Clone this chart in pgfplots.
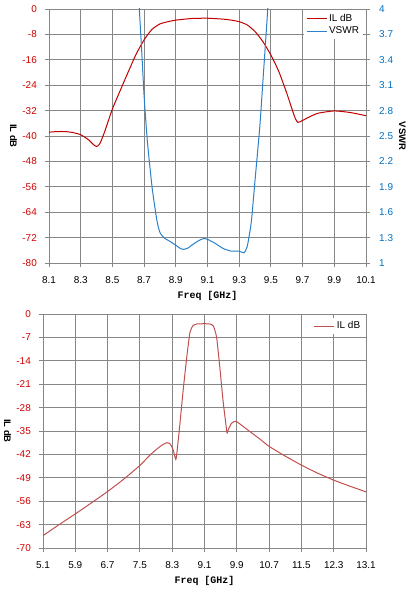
\documentclass[border=0pt]{standalone}
\usepackage{pgfplots}
\pgfplotsset{compat=1.18}
\usepackage{fontspec}
\setmainfont{Liberation Sans}
\newfontfamily\monofont{Liberation Mono}
\definecolor{ilred}{HTML}{C00000}
\definecolor{ilred2}{HTML}{C0504D}
\definecolor{vswrblue}{HTML}{2A80CA}
\definecolor{ticklred}{HTML}{D00000}
\definecolor{tickblue}{HTML}{0070C0}
\definecolor{gridgray}{HTML}{868686}

\pgfplotsset{
  base/.style={
    scale only axis,
    /pgf/number format/assume math mode=true,
    axis line style={draw=gridgray, line width=0.9bp},
    grid style={draw=gridgray, line width=0.9bp},
    tick style={draw=gridgray, line width=0.9bp},
    major tick length=4bp,
    tick align=outside,
    ticklabel style={font=\fontsize{10}{12}\selectfont},
    xticklabel style={anchor=north, inner sep=0pt, yshift=-9bp, text=black,
      /pgf/number format/fixed, /pgf/number format/precision=1},
    yticklabel style={inner sep=0pt},
    label style={font=\fontsize{9.5}{11}\selectfont\bfseries},
    xlabel style={font=\fontsize{10}{12}\selectfont\monofont\bfseries},
    legend style={draw=none, fill=white, inner sep=2bp,
      font=\fontsize{10}{12}\selectfont, row sep=0bp},
    legend cell align=left,
    legend image code/.code={\draw[#1] (0bp,0bp) -- (20bp,0bp);},
  }
}

\begin{document}
\begin{tikzpicture}
\useasboundingbox (0,0) rectangle (413bp,596bp);

% ---------- top chart, left axis (IL dB)
\begin{axis}[base,
  at={(49bp,333bp)}, anchor=south west,
  width=317bp, height=254bp,
  xmin=8.1, xmax=10.1, ymin=-80, ymax=0,
  xtick={8.1,8.3,8.5,8.7,8.9,9.1,9.3,9.5,9.7,9.9,10.1},
  ytick={-80,-72,-64,-56,-48,-40,-32,-24,-16,-8,0},
  xtick pos=bottom, ytick pos=left,
  xmajorgrids, ymajorgrids,
  yticklabel style={text=ticklred, anchor=east, xshift=-8bp},
  xlabel={Freq [GHz]},
  xlabel style={at={(rel axis cs:0.5,0)}, anchor=center, yshift=-33bp},
  ylabel={IL dB},
  ylabel style={at={(rel axis cs:-0.112,0.5)}, anchor=center, rotate=180},
]
\addplot[ilred, line width=1bp, smooth, tension=0.35] coordinates {
(8.10,-38.8) (8.15,-38.6) (8.20,-38.6) (8.25,-38.9) (8.30,-39.6)
(8.35,-41.2) (8.38,-42.7) (8.40,-43.3) (8.42,-42.5) (8.45,-38.8)
(8.50,-31.5) (8.55,-25.6) (8.60,-19.8) (8.65,-14.2) (8.70,-9.7)
(8.75,-6.4) (8.80,-4.7) (8.85,-4.0) (8.90,-3.5) (9.00,-3.0)
(9.10,-2.9) (9.20,-3.2) (9.25,-3.5) (9.30,-4.0) (9.35,-5.0)
(9.40,-7.1) (9.45,-10.3) (9.50,-14.5) (9.55,-19.7) (9.60,-26.5)
(9.65,-34.0) (9.67,-35.7) (9.70,-35.1) (9.75,-33.8) (9.80,-32.8)
(9.90,-32.1) (10.00,-32.6) (10.10,-33.6)
};
\end{axis}

% ---------- top chart, right axis (VSWR)
\begin{axis}[base,
  at={(49bp,333bp)}, anchor=south west,
  width=317bp, height=254bp,
  xmin=8.1, xmax=10.1, ymin=1, ymax=4,
  axis x line=none, axis y line*=right,
  ytick={1,1.3,1.6,1.9,2.2,2.5,2.8,3.1,3.4,3.7,4},
  yticklabel style={text=tickblue, anchor=west, xshift=9bp},
  ylabel={VSWR},
  ylabel style={at={(rel axis cs:1.115,0.5)}, anchor=center, rotate=180},
  legend style={at={(rel axis cs:0.991,0.996)}, anchor=north east},
]
\addlegendimage{ilred, line width=1bp}
\addlegendentry{IL dB}
\addplot[vswrblue, line width=1bp, smooth, tension=0.35] coordinates {
(8.655,4.6) (8.67,4.0) (8.685,3.5) (8.70,2.97) (8.72,2.45) (8.75,1.90)
(8.78,1.51) (8.80,1.36) (8.83,1.29) (8.85,1.27) (8.90,1.21) (8.93,1.17)
(8.95,1.16) (8.98,1.18) (9.00,1.21) (9.05,1.27) (9.08,1.29) (9.10,1.28)
(9.15,1.23) (9.20,1.17) (9.25,1.14) (9.30,1.14) (9.33,1.12) (9.35,1.19)
(9.37,1.40) (9.38,1.55) (9.40,1.98) (9.43,2.61) (9.45,3.16) (9.47,3.71)
(9.48,4.0) (9.49,4.3)
};
\addlegendentry{VSWR}
\end{axis}

% ---------- bottom chart
\begin{axis}[base,
  at={(43bp,48bp)}, anchor=south west,
  width=323bp, height=234bp,
  xmin=5.1, xmax=13.1, ymin=-70, ymax=0,
  xtick={5.1,5.9,6.7,7.5,8.3,9.1,9.9,10.7,11.5,12.3,13.1},
  ytick={-70,-63,-56,-49,-42,-35,-28,-21,-14,-7,0},
  xtick pos=bottom, ytick pos=left,
  xmajorgrids, ymajorgrids,
  yticklabel style={text=ticklred, anchor=east, xshift=-8bp},
  xlabel={Freq [GHz]},
  xlabel style={at={(rel axis cs:0.5,0)}, anchor=center, yshift=-33bp},
  ylabel={IL dB},
  ylabel style={at={(rel axis cs:-0.11,0.5)}, anchor=center, rotate=180},
  legend style={at={(rel axis cs:0.995,0.985)}, anchor=north east},
]
\addplot[ilred2, line width=1bp, smooth, tension=0.35] coordinates {
(5.1,-66.3) (5.5,-63.0) (5.9,-59.8) (6.3,-56.5) (6.7,-53.1) (7.1,-49.4)
(7.5,-45.3) (7.75,-42.2) (7.9,-40.6) (8.05,-39.2) (8.17,-38.5) (8.25,-38.9)
(8.32,-40.5) (8.39,-43.5) (8.43,-40.0) (8.49,-33.0) (8.57,-23.0) (8.66,-13.0)
(8.74,-5.5) (8.82,-3.4) (8.9,-3.0) (9.1,-2.9) (9.23,-3.0) (9.32,-3.6)
(9.4,-7.0) (9.48,-16.0) (9.56,-26.0) (9.63,-33.0) (9.66,-35.6) (9.7,-34.3)
(9.77,-32.7) (9.88,-32.1) (10.14,-34.4) (10.47,-37.4) (10.7,-39.6)
(11.1,-42.5) (11.5,-45.2) (11.9,-47.6) (12.3,-49.7) (12.7,-51.5) (13.1,-53.2)
};
\addlegendentry{IL dB}
\end{axis}
\end{tikzpicture}
\end{document}
